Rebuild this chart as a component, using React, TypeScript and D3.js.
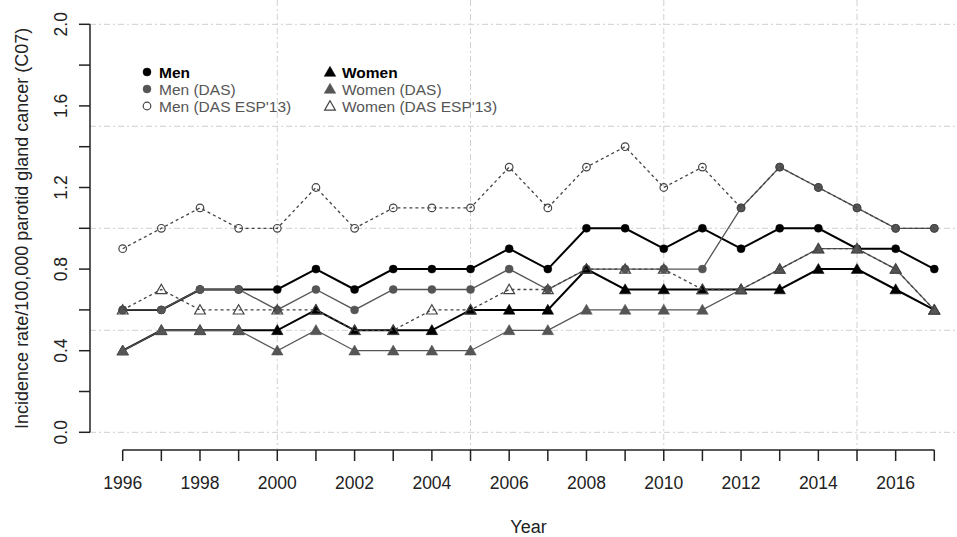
import React from "react";
import * as d3 from "d3";

const years = d3.range(1996, 2018);
const men = [0.6,0.6,0.7,0.7,0.7,0.8,0.7,0.8,0.8,0.8,0.9,0.8,1.0,1.0,0.9,1.0,0.9,1.0,1.0,0.9,0.9,0.8];
const menDAS = [0.6,0.6,0.7,0.7,0.6,0.7,0.6,0.7,0.7,0.7,0.8,0.7,0.8,0.8,0.8,0.8,1.1,1.3,1.2,1.1,1.0,1.0];
const menESP = [0.9,1.0,1.1,1.0,1.0,1.2,1.0,1.1,1.1,1.1,1.3,1.1,1.3,1.4,1.2,1.3,1.1,1.3,1.2,1.1,1.0,1.0];
const women = [0.4,0.5,0.5,0.5,0.5,0.6,0.5,0.5,0.5,0.6,0.6,0.6,0.8,0.7,0.7,0.7,0.7,0.7,0.8,0.8,0.7,0.6];
const womenDAS = [0.4,0.5,0.5,0.5,0.4,0.5,0.4,0.4,0.4,0.4,0.5,0.5,0.6,0.6,0.6,0.6,0.7,0.8,0.9,0.9,0.8,0.6];
const womenESP = [0.6,0.7,0.6,0.6,0.6,0.6,0.5,0.5,0.6,0.6,0.7,0.7,0.8,0.8,0.8,0.7,0.7,0.8,0.9,0.9,0.8,0.6];

const yTicks = [0, 0.2, 0.4, 0.6, 0.8, 1.0, 1.2, 1.4, 1.6, 1.8, 2.0];
const yLabels = [0, 0.4, 0.8, 1.2, 1.6, 2.0];
const xLabels = [1996, 1998, 2000, 2002, 2004, 2006, 2008, 2010, 2012, 2014, 2016];
const xGrid = [2000, 2005, 2010, 2015];
const yGrid = [0, 0.5, 1.0, 1.5, 2.0];

type S = { name: string; values: number[]; color: string; width: number; dash?: string; shape: "circle" | "triangle"; filled: boolean };
const series: S[] = [
  { name: "Men", values: men, color: "#000", width: 2, shape: "circle", filled: true },
  { name: "Men (DAS)", values: menDAS, color: "#555", width: 1.3, shape: "circle", filled: true },
  { name: "Men (DAS ESP'13)", values: menESP, color: "#444", width: 1.3, dash: "3,3", shape: "circle", filled: false },
  { name: "Women", values: women, color: "#000", width: 2, shape: "triangle", filled: true },
  { name: "Women (DAS)", values: womenDAS, color: "#555", width: 1.3, shape: "triangle", filled: true },
  { name: "Women (DAS ESP'13)", values: womenESP, color: "#444", width: 1.3, dash: "3,3", shape: "triangle", filled: false },
];

const font = "Liberation Sans, Arial, sans-serif";

export default function App() {
  const x = d3.scaleLinear().domain([1996, 2017]).range([122.7, 934.3]);
  const y = d3.scaleLinear().domain([0, 2]).range([432.3, 24.3]);
  const line = d3.line<number>().x((_, i) => x(years[i])).y((v) => y(v));
  const tri = d3.symbol().type(d3.symbolTriangle).size(58)()!;
  const triSmall = d3.symbol().type(d3.symbolTriangle).size(50)()!;

  const marker = (s: S, cx: number, cy: number, key: string | number) =>
    s.shape === "circle" ? (
      <circle key={key} cx={cx} cy={cy} r={s.filled ? 4 : 3.8} fill={s.filled ? s.color : "none"} stroke={s.color} strokeWidth={s.filled ? 0.5 : 1.2} />
    ) : (
      <path key={key} d={s.filled ? tri : triSmall} transform={`translate(${cx},${cy + 1})`} fill={s.filled ? s.color : "none"} stroke={s.color} strokeWidth={s.filled ? 0.5 : 1.2} />
    );

  const legendPos = [
    [147, 72], [147, 89], [147, 106],
    [330, 72], [330, 89], [330, 106],
  ];

  return (
    <svg width={957} height={537} style={{ position: "absolute", left: 0, top: 0, background: "#fff" }} fontFamily={font}>
      {/* grid */}
      {xGrid.map((g) => (
        <line key={"vx" + g} x1={x(g)} x2={x(g)} y1={0} y2={450} stroke="#cfcfcf" strokeWidth={1} strokeDasharray="6,3,2,3" />
      ))}
      {yGrid.map((g) => (
        <line key={"hy" + g} x1={90} x2={957} y1={y(g)} y2={y(g)} stroke="#cfcfcf" strokeWidth={1} strokeDasharray="6,3,2,3" />
      ))}
      {/* y axis */}
      <line x1={90} x2={90} y1={y(0)} y2={y(2)} stroke="#222" strokeWidth={1.5} />
      {yTicks.map((t) => (
        <line key={"yt" + t} x1={79} x2={90} y1={y(t)} y2={y(t)} stroke="#222" strokeWidth={1.5} />
      ))}
      {yLabels.map((t) => (
        <text key={"yl" + t} transform={`translate(61,${y(t)}) rotate(-90)`} textAnchor="middle" dominantBaseline="central" fontSize={17.5} fill="#222">
          {t.toFixed(1)}
        </text>
      ))}
      <text transform={`translate(22,${y(1)}) rotate(-90)`} textAnchor="middle" dominantBaseline="central" fontSize={18} fill="#222">
        Incidence rate/100,000 parotid gland cancer (C07)
      </text>
      {/* x axis */}
      <line x1={x(1996)} x2={x(2017)} y1={450} y2={450} stroke="#222" strokeWidth={1.5} />
      {years.map((t) => (
        <line key={"xt" + t} x1={x(t)} x2={x(t)} y1={450} y2={461} stroke="#222" strokeWidth={1.5} />
      ))}
      {xLabels.map((t) => (
        <text key={"xl" + t} x={x(t)} y={483} textAnchor="middle" dominantBaseline="central" fontSize={17.5} fill="#222">
          {t}
        </text>
      ))}
      <text x={x(2006.5)} y={527} textAnchor="middle" dominantBaseline="central" fontSize={18} fill="#222">
        Year
      </text>
      {/* series */}
      {series.map((s) => (
        <g key={s.name}>
          <path d={line(s.values)!} fill="none" stroke={s.color} strokeWidth={s.width} strokeDasharray={s.dash} />
          {s.values.map((v, i) => marker(s, x(years[i]), y(v), i))}
        </g>
      ))}
      {/* legend */}
      {series.map((s, i) => (
        <g key={"lg" + s.name}>
          {marker(s, legendPos[i][0], legendPos[i][1], "m")}
          <text x={legendPos[i][0] + 12} y={legendPos[i][1]} dominantBaseline="central" fontSize={15.5} fill={s.color === "#000" ? "#000" : "#555"} fontWeight={s.color === "#000" ? 600 : 400}>
            {s.name}
          </text>
        </g>
      ))}
    </svg>
  );
}
